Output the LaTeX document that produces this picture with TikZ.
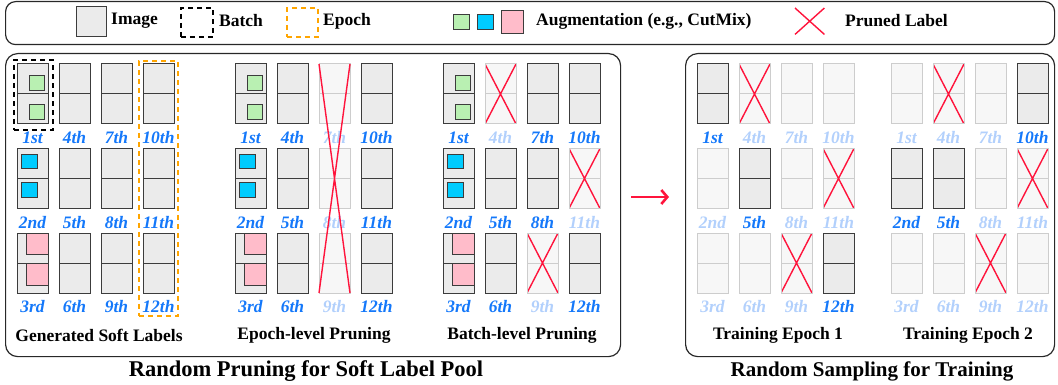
\documentclass[tikz,border=0pt]{standalone}
\usepackage{fontspec}
\setmainfont{Liberation Serif}
\usetikzlibrary{calc,arrows.meta}
\definecolor{imgfill}{RGB}{235,235,235}
\definecolor{imgdraw}{RGB}{60,60,60}
\definecolor{fadfill}{RGB}{247,247,247}
\definecolor{faddraw}{RGB}{205,205,205}
\definecolor{labblue}{RGB}{20,120,250}
\definecolor{labfade}{RGB}{178,208,252}
\definecolor{prunered}{RGB}{255,20,60}
\definecolor{augGc}{RGB}{185,240,178}
\definecolor{augBc}{RGB}{0,204,255}
\definecolor{augPc}{RGB}{255,188,202}
\definecolor{epochorange}{RGB}{255,165,0}
\definecolor{panelline}{RGB}{40,40,40}
\tikzset{
  crossline/.style={draw=prunered, line width=1.4pt},
  cellbase/.style={rectangle, minimum width=31pt, minimum height=60pt, inner sep=0pt, outer sep=0pt, line width=1pt, anchor=north west},
  act/.style={cellbase, fill=imgfill, draw=imgdraw, path picture={\draw[imgdraw,line width=1pt] (path picture bounding box.west) -- (path picture bounding box.east);}},
  fad/.style={cellbase, fill=fadfill, draw=faddraw, path picture={\draw[faddraw,line width=1pt] (path picture bounding box.west) -- (path picture bounding box.east);}},
  pr/.style={cellbase, fill=fadfill, draw=faddraw, path picture={\draw[faddraw,line width=1pt] (path picture bounding box.west) -- (path picture bounding box.east); \draw[crossline] (path picture bounding box.north west) -- (path picture bounding box.south east) (path picture bounding box.north east) -- (path picture bounding box.south west);}},
  labact/.style={text=labblue, font=\fontsize{17.5}{20}\selectfont\bfseries\itshape, inner sep=0pt},
  labfad/.style={labact, text=labfade},
  labpr/.style={labfad},
  augsq/.style={draw=imgdraw, line width=1pt},
  legtext/.style={font=\fontsize{17.5}{20}\selectfont\bfseries, anchor=west, inner sep=0pt},
  subtitle/.style={font=\fontsize{17.5}{20}\selectfont\bfseries, inner sep=0pt},
  bigtitle/.style={font=\fontsize{21}{24}\selectfont\bfseries, inner sep=0pt},
  panel/.style={rectangle, draw=panelline, line width=1.2pt, rounded corners=12pt, anchor=north west, inner sep=0pt},
  batchbox/.style={rectangle, draw=black, line width=1.8pt, dash pattern=on 5pt off 4pt, anchor=north west, inner sep=0pt},
  epochbox/.style={rectangle, draw=epochorange, line width=1.8pt, dash pattern=on 5pt off 4pt, anchor=north west, inner sep=0pt},
  sqnode/.style={rectangle, line width=1pt, draw=imgdraw, anchor=north west, inner sep=0pt},
  redarrow/.style={draw=prunered, line width=2.6pt, -{Straight Barb[length=6pt,width=14pt]}},
}
\newcommand{\panelcells}[3]{%
  \foreach \s [count=\i] in {#3} {%
    \pgfmathtruncatemacro{\cc}{(\i-1)/3}%
    \pgfmathtruncatemacro{\rr}{mod(\i-1,3)}%
    \pgfmathsetmacro{\xx}{#2+42*\cc}%
    \pgfmathsetmacro{\yy}{{64,148.5,233}[\rr]}%
    \node[\s] (#1\i) at (\xx,\yy) {};%
    \node[lab\s] (#1l\i) at ($(#1\i.south)+(0,14)$) {\ifcase\i\or 1st\or 2nd\or 3rd\else\i th\fi};%
  }%
}
\newcommand{\augs}[1]{%
  \draw[augsq, fill=augGc] ($(#11.north west)+(12,12)$) rectangle ($(#11.north west)+(27,27)$);
  \draw[augsq, fill=augGc] ($(#11.north west)+(12,41)$) rectangle ($(#11.north west)+(27,56)$);
  \draw[augsq, fill=augBc] ($(#12.north west)+(4,6)$) rectangle ($(#12.north west)+(20,20)$);
  \draw[augsq, fill=augBc] ($(#12.north west)+(4,34)$) rectangle ($(#12.north west)+(20,49)$);
  \draw[augsq, fill=augPc] ($(#13.north west)+(9,0)$) rectangle ($(#13.north west)+(31,21)$);
  \draw[augsq, fill=augPc] ($(#13.north west)+(9,30)$) rectangle ($(#13.north west)+(31,52)$);
}
\begin{document}
\begin{tikzpicture}[x=1pt, y=-1pt]
\useasboundingbox (0,0) rectangle (1058,385);
% legend
\node[panel, rounded corners=10pt, minimum width=1049pt, minimum height=43pt] (legend) at (5,1) {};
\node[sqnode, fill=imgfill, minimum width=30pt, minimum height=30pt] (legimg) at (76,6) {};
\node[legtext] (legimgt) at (111,21) {Image};
\node[batchbox, minimum width=32pt, minimum height=29pt] (legbatch) at (180,7) {};
\node[legtext] (legbatcht) at (219,21) {Batch};
\node[epochbox, minimum width=31pt, minimum height=29pt] (legepoch) at (286,7) {};
\node[legtext] (legepocht) at (323,21) {Epoch};
\node[sqnode, fill=augGc, minimum width=16pt, minimum height=15pt] (legg) at (453,14) {};
\node[sqnode, fill=augBc, minimum width=16pt, minimum height=15pt] (legb) at (477,14) {};
\node[sqnode, fill=augPc, minimum width=22pt, minimum height=23pt] (legp) at (501,10) {};
\node[legtext] (legaugt) at (536,21) {Augmentation (e.g., CutMix)};
\node[rectangle, minimum width=29pt, minimum height=26pt, anchor=north west, inner sep=0pt] (legx) at (795,8) {};
\draw[crossline] (legx.north west) -- (legx.south east) (legx.north east) -- (legx.south west);
\node[legtext] (legxt) at (845,21) {Pruned Label};
% panels
\node[panel, minimum width=615pt, minimum height=303pt] (lpanel) at (5,53) {};
\node[panel, minimum width=369pt, minimum height=303pt] (rpanel) at (685,53) {};
% generated soft labels
\panelcells{g}{17}{act,act,act,act,act,act,act,act,act,act,act,act}
\augs{g}
\node[batchbox, minimum width=39pt, minimum height=70pt] (batch) at (13,59) {};
\node[epochbox, minimum width=39pt, minimum height=255pt] (epoch) at (138,60) {};
% epoch-level pruning
\panelcells{e}{235}{act,act,act,act,act,act,fad,fad,fad,act,act,act}
\augs{e}
\draw[crossline] (e7.north west) -- (e9.south east) (e7.north east) -- (e9.south west);
% batch-level pruning
\panelcells{b}{443}{act,act,act,pr,act,act,act,act,pr,act,pr,act}
\augs{b}
% training epochs
\panelcells{t}{697}{act,fad,fad,pr,act,fad,fad,fad,pr,fad,pr,act}
\panelcells{u}{891}{fad,act,fad,pr,act,fad,fad,fad,pr,act,pr,fad}
% subtitles
\node[subtitle] (st1) at (99,335) {Generated Soft Labels};
\node[subtitle] (st2) at (314,335) {Epoch-level Pruning};
\node[subtitle] (st3) at (522,335) {Batch-level Pruning};
\node[subtitle] (st4) at (778,335) {Training Epoch 1};
\node[subtitle] (st5) at (968,335) {Training Epoch 2};
\node[bigtitle, font=\fontsize{22.5}{25}\selectfont\bfseries] (tl) at (306,371) {Random Pruning for Soft Label Pool};
\node[bigtitle] (tr) at (872,371) {Random Sampling for Training};
% arrow
\coordinate (arrs) at (631,197);
\coordinate (arre) at (669,197);
\draw[redarrow] (arrs) -- (arre);
\end{tikzpicture}
\end{document}
